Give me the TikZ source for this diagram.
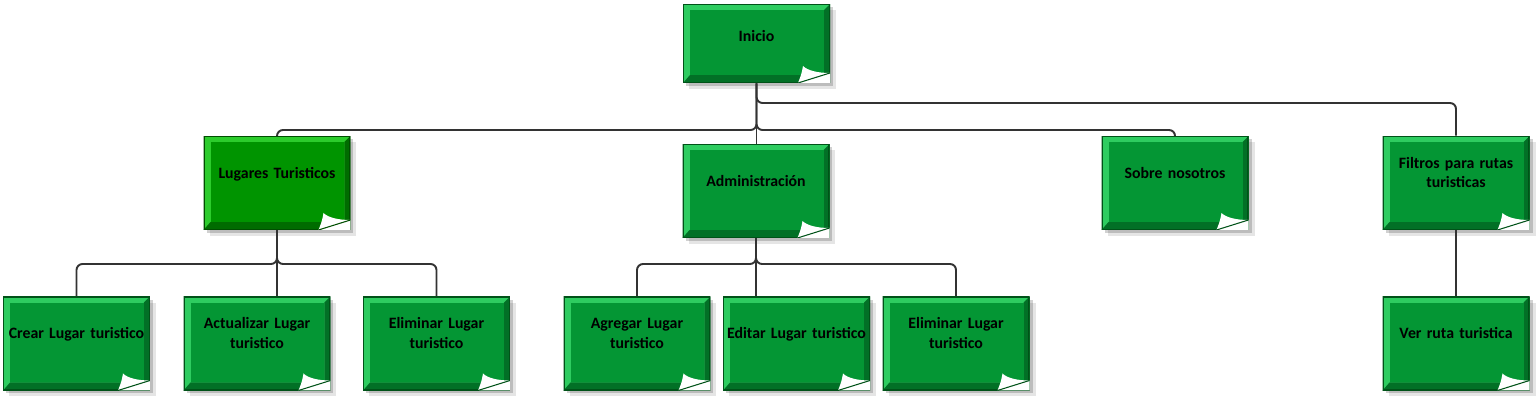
\documentclass[tikz,border=0pt]{standalone}
\usepackage{fontspec}
\setmainfont{Carlito}
\usetikzlibrary{shadows}

\definecolor{gface}{RGB}{4,150,52}
\definecolor{glight}{RGB}{46,204,96}
\definecolor{gdeep}{RGB}{2,112,38}
\definecolor{gedge}{RGB}{0,82,24}
\definecolor{sface}{RGB}{0,148,0}
\definecolor{slight}{RGB}{44,204,44}
\definecolor{sdeep}{RGB}{0,108,0}
\definecolor{sedge}{RGB}{0,78,0}
\definecolor{wire}{RGB}{51,51,51}

% bevel, border and folded corner of a note
\newcommand{\notepic}[4]{%
  \coordinate (psw) at (path picture bounding box.south west);
  \coordinate (pne) at (path picture bounding box.north east);
  \coordinate (pse) at (path picture bounding box.south east);
  \fill[#1] (psw) rectangle (pne);
  \fill[#3] (psw) -- (pse) -- (pne) -- ([shift={(-0.12cm,-0.12cm)}]pne)
    -- ([shift={(-0.12cm,0.16cm)}]pse) -- ([shift={(0.14cm,0.16cm)}]psw) -- cycle;
  \fill[#2] ([shift={(0.14cm,0.16cm)}]psw) rectangle ([shift={(-0.12cm,-0.12cm)}]pne);
  \draw[#4, line width=1.6pt] (psw) rectangle (pne);
  \fill[white] ([shift={(-0.64cm,0)}]pse) -- ([shift={(0,0.2cm)}]pse) -- (pse) -- cycle;
  \fill[white] ([shift={(-0.54cm,0.34cm)}]pse)
    .. controls ([shift={(-0.57cm,0.18cm)}]pse) .. ([shift={(-0.64cm,0)}]pse)
    -- ([shift={(0,0.2cm)}]pse)
    .. controls ([shift={(-0.25cm,0.2cm)}]pse) and ([shift={(-0.45cm,0.25cm)}]pse)
    .. ([shift={(-0.54cm,0.34cm)}]pse);
  \draw[#4, line width=0.6pt] ([shift={(-0.64cm,0)}]pse) -- ([shift={(0,0.2cm)}]pse);
}

\tikzset{
  notebase/.style={minimum width=2.94cm, minimum height=1.88cm, text width=2.86cm,
    inner xsep=0.04cm, inner ysep=0pt, align=center, text depth=12pt,
    font=\bfseries\fontsize{9}{11.3}\selectfont,
    drop shadow={shadow xshift=0.06cm, shadow yshift=-0.06cm, fill=black, opacity=0.18},
    drop shadow={shadow xshift=0.12cm, shadow yshift=-0.12cm, fill=black, opacity=0.1}},
  note/.style={notebase, fill=gface, path picture={\notepic{glight}{gface}{gdeep}{gedge}}},
  notesel/.style={notebase, fill=sface, path picture={\notepic{slight}{sface}{sdeep}{sedge}}},
  twolines/.style={text depth=23.3pt},
  link/.style={draw=wire, line width=1.1pt, rounded corners=0.12cm}
}

\hyphenpenalty=10000
\exhyphenpenalty=10000

\begin{document}
\begin{tikzpicture}[x=0.02cm, y=-0.02cm]
\useasboundingbox (0,0) rectangle (1540,401);

% top
\node[note, minimum height=1.58cm, text depth=8.6pt] (ini) at (756.5,43.5) {Inicio};

% second level
\node[notesel] (lug) at (277,183) {Lugares Turisticos};
\node[note] (adm) at (756,191) {Administración};
\node[note] (sob) at (1175,183) {Sobre nosotros};
\node[note, twolines] (fil) at (1456,183) {Filtros para rutas\\turisticas};

% third level
\node[note] (cre) at (76.5,343.5) {Crear Lugar turistico};
\node[note, twolines] (act) at (257,343.5) {Actualizar Lugar\\turistico};
\node[note, twolines] (eli) at (436.5,343.5) {Eliminar Lugar\\turistico};
\node[note, twolines] (agr) at (637,343.5) {Agregar Lugar\\turistico};
\node[note] (edi) at (796.5,343.5) {Editar Lugar turistico};
\node[note, twolines] (el2) at (956,343.5) {Eliminar Lugar\\turistico};
\node[note] (ver) at (1456,343.5) {Ver ruta turistica};

% bus levels
\coordinate (fbus) at (0,103);
\coordinate (tbus) at (0,130);
\coordinate (lbus) at (0,264);

% Inicio branches
\draw[link] (ini.south) -- (ini.south |- adm.north);
\draw[link] (ini.south) |- (tbus -| lug.north) -- (lug.north);
\draw[link] (ini.south) |- (tbus -| sob.north) -- (sob.north);
\draw[link] (ini.south) |- (fbus -| fil.north) -- (fil.north);

% Lugares branches
\draw[link] (lug.south) |- (lbus -| cre.north) -- (cre.north);
\draw[link] (lug.south) -- (lug.south |- act.north);
\draw[link] (lug.south) |- (lbus -| eli.north) -- (eli.north);

% Administracion branches
\draw[link] (adm.south) |- (lbus -| agr.north) -- (agr.north);
\draw[link] (adm.south) -- (adm.south |- edi.north);
\draw[link] (adm.south) |- (lbus -| el2.north) -- (el2.north);

% Filtros branch
\draw[link] (fil.south) -- (ver.north);
\end{tikzpicture}
\end{document}
